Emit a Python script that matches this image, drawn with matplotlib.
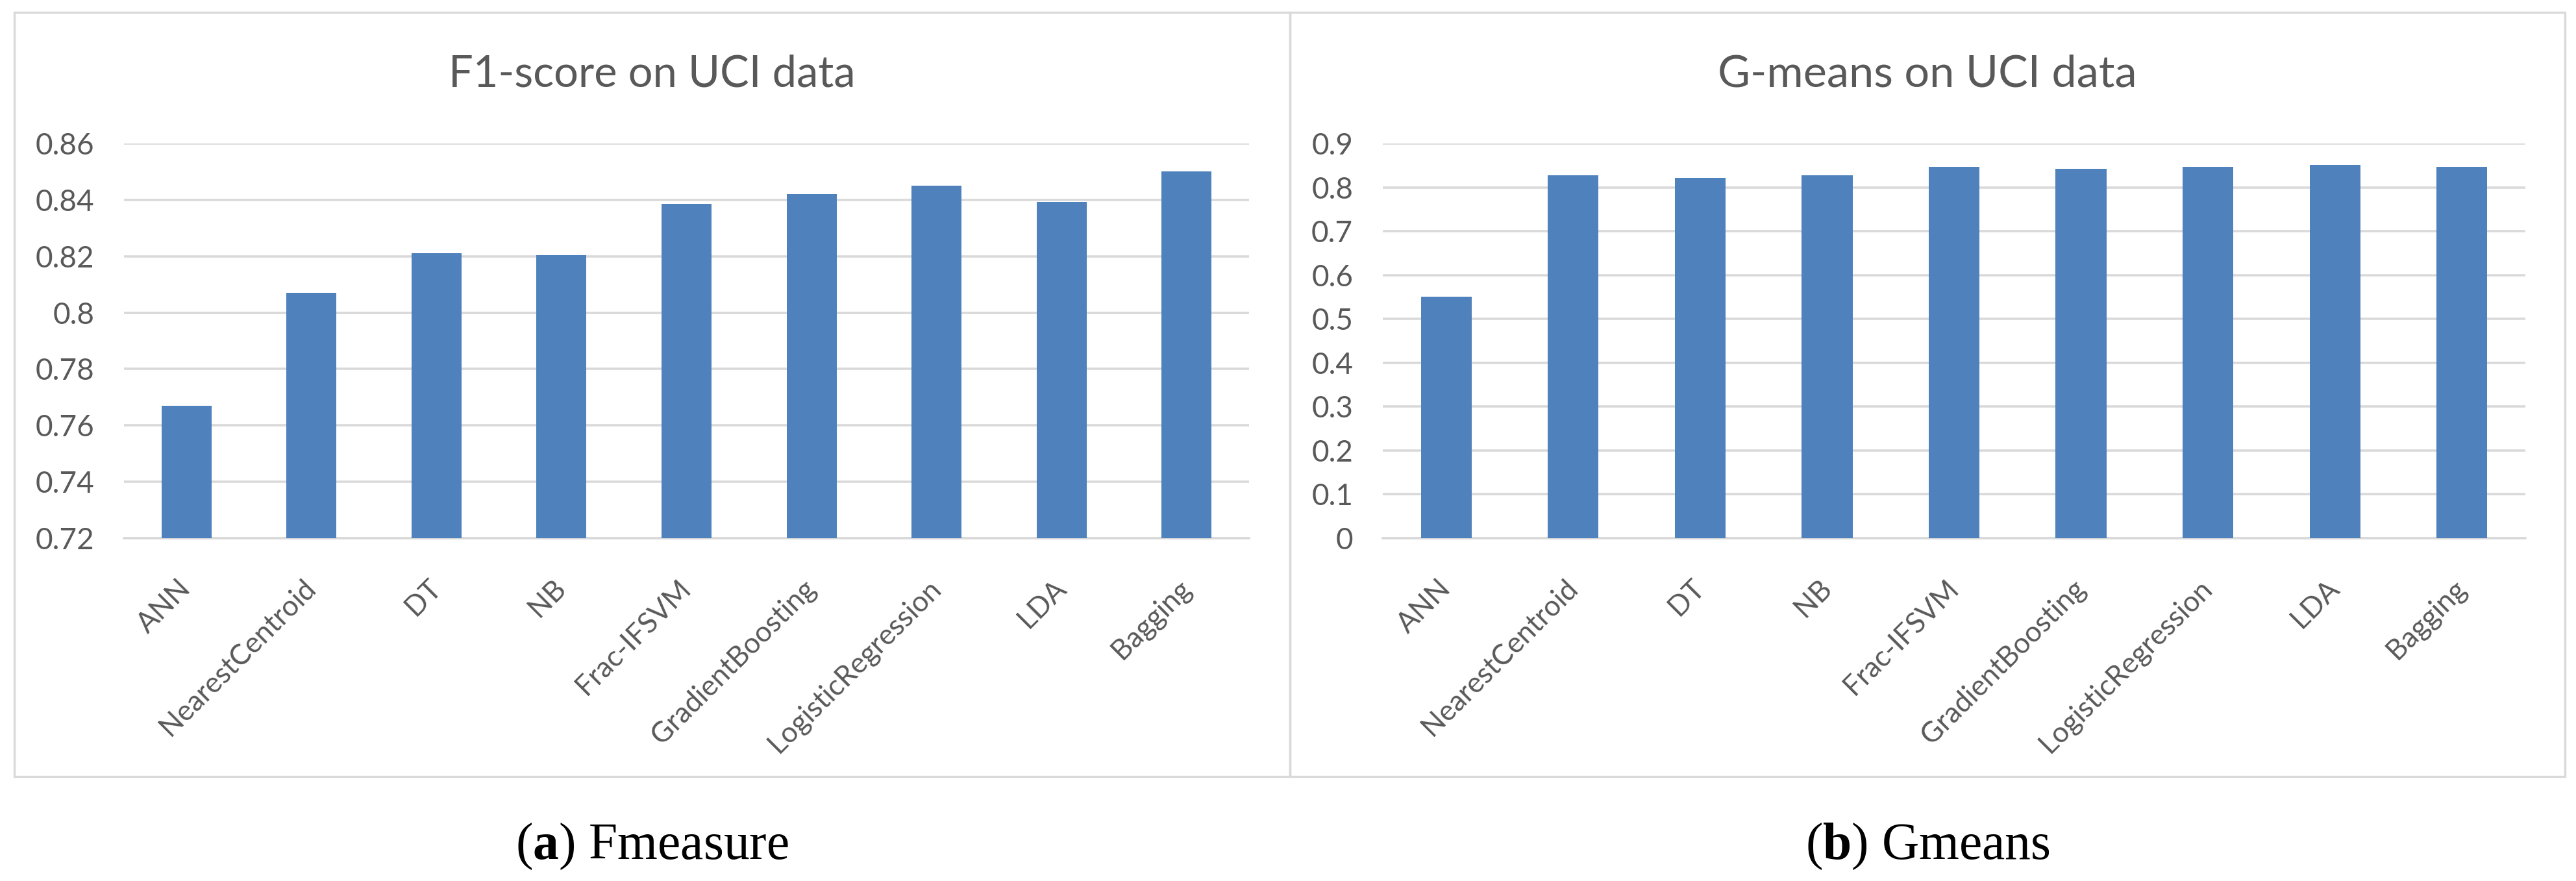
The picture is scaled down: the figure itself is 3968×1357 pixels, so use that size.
#F1-score and G-means bar charts on UCI data

import matplotlib.pyplot as plt
from matplotlib.patches import Rectangle

#data
models = ['ANN', 'NearestCentroid', 'DT', 'NB', 'Frac-IFSVM', 'GradientBoosting',
          'LogisticRegression', 'LDA', 'Bagging']
f1_scores = [0.767, 0.807, 0.821, 0.8203, 0.8387, 0.842, 0.845, 0.8392, 0.850]
g_means = [0.551, 0.827, 0.821, 0.827, 0.847, 0.843, 0.847, 0.851, 0.847]

f1_ticks = [0.72, 0.74, 0.76, 0.78, 0.80, 0.82, 0.84, 0.86]
gm_ticks = [0, 0.1, 0.2, 0.3, 0.4, 0.5, 0.6, 0.7, 0.8, 0.9]

titles = ['F1-score on UCI data', 'G-means on UCI data']
captions = [r'($\mathbf{a}$) Fmeasure', r'($\mathbf{b}$) Gmeans']

#style
W, H = 3968, 1357
DPI = 300
bar_color = '#4F81BD'
grid_color = '#D9D9D9'
text_color = '#595959'
plt.rcParams['font.family'] = ['Lato', 'DejaVu Sans']
plt.rcParams['mathtext.fontset'] = 'custom'
plt.rcParams['mathtext.rm'] = 'Liberation Serif'
plt.rcParams['mathtext.bf'] = 'Liberation Serif:bold'

fig = plt.figure(figsize=(W / DPI, H / DPI), dpi=DPI)
renderer = fig.canvas.get_renderer()


def fit_width(txt, target_px):
    #scale font size so the text is as wide as in the reference
    w = txt.get_window_extent(renderer).width
    txt.set_fontsize(txt.get_fontsize() * target_px / w)


#panel frames (pixel coords)
panels = [(22, 1987), (1987, 3951)]
for x0, x1 in panels:
    fig.patches.append(Rectangle((x0 / W, 1 - 1196 / H), (x1 - x0) / W, (1196 - 19) / H,
                                 transform=fig.transFigure, fill=False,
                                 edgecolor=grid_color, linewidth=0.8))

#axes placement (pixel coords)
ax_x = [(191, 1924), (2130, 3890)]
ax_top, ax_bottom = 221, 829

series = [f1_scores, g_means]
ticks = [f1_ticks, gm_ticks]
title_widths = [628, 646]
caption_size = 19

for i in range(2):
    x0, x1 = ax_x[i]
    ax = fig.add_axes([x0 / W, 1 - ax_bottom / H, (x1 - x0) / W, (ax_bottom - ax_top) / H])
    pos = range(len(models))
    ax.bar(pos, series[i], width=0.4, color=bar_color, zorder=2)
    ax.set_xlim(-0.5, len(models) - 0.5)
    ax.set_ylim(ticks[i][0], ticks[i][-1])
    ax.set_yticks(ticks[i])
    ax.set_yticklabels([f'{round(t, 2):g}' for t in ticks[i]])
    ax.set_xticks(list(pos))
    ax.set_xticklabels(models, rotation=45, ha='right', va='center', rotation_mode='anchor')
    ax.grid(axis='y', color=grid_color, linewidth=0.85, zorder=0)
    ax.set_axisbelow(True)
    for s in ax.spines.values():
        s.set_visible(False)
    ax.axhline(ticks[i][0], color=grid_color, linewidth=0.85, zorder=1, clip_on=False)
    ax.tick_params(axis='y', length=0, pad=11, labelsize=11, labelcolor=text_color)
    ax.tick_params(axis='x', length=0, pad=17, labelsize=10.5, labelcolor=text_color)

    cx = (panels[i][0] + panels[i][1]) / 2 / W
    t = fig.text(cx, 1 - 133 / H, titles[i], ha='center', va='baseline',
                 fontsize=17, color=text_color)
    fit_width(t, title_widths[i])
    c = fig.text(cx, 1 - 1323 / H, captions[i], ha='center', va='baseline',
                 fontsize=caption_size, color='black', family='Liberation Serif')
    if i == 0:
        fit_width(c, 421)
        caption_size = c.get_fontsize()

fig.savefig('out.png', dpi=DPI, facecolor='white')
